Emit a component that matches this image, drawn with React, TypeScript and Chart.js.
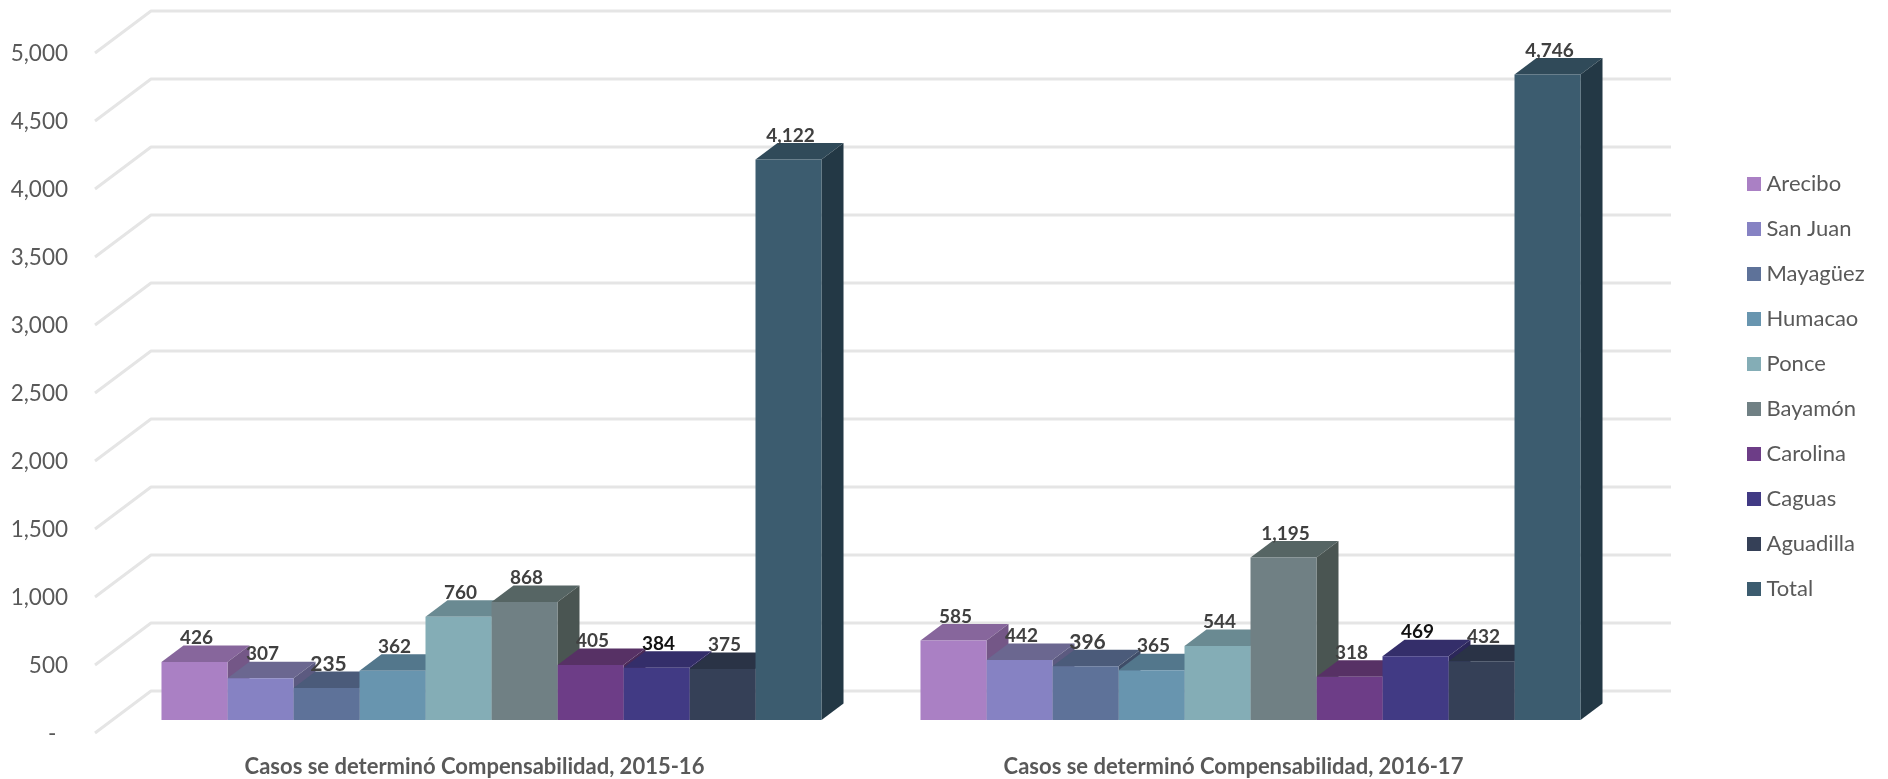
import React, { useEffect, useRef } from "react";
import { Chart, registerables } from "chart.js";

Chart.register(...registerables);

const categories = [
  "Casos se determinó Compensabilidad, 2015-16",
  "Casos se determinó Compensabilidad, 2016-17",
];
const regions = ["Arecibo", "San Juan", "Mayagüez", "Humacao", "Ponce", "Bayamón", "Carolina", "Caguas", "Aguadilla", "Total"];
const values2015 = [426, 307, 235, 362, 760, 868, 405, 384, 375, 4122];
const values2016 = [585, 442, 396, 365, 544, 1195, 318, 469, 432, 4746];
const frontColors = ["#AA80C4", "#8682C3", "#5E7299", "#6895AF", "#84ADB6", "#708084", "#6D3D87", "#413A84", "#354057", "#3C5C6F"];
const topColors = ["#87669C", "#6B6790", "#4B5B7A", "#53778C", "#6A8A92", "#566564", "#573165", "#342E6A", "#2A3346", "#304A59"];
const sideColors = ["#745787", "#5C5A80", "#3F4D68", "#466577", "#5A767C", "#4A5552", "#4A2A58", "#2C275A", "#24293A", "#233845"];

const FONT = "Lato, 'Open Sans', sans-serif";
const TEXT = "#595959";
const DEPTH_X = 22;
const DEPTH_Y = 16.5;

const poly = (ctx: CanvasRenderingContext2D, pts: number[][], fill: string) => {
  ctx.beginPath();
  pts.forEach(([x, y], i) => (i ? ctx.lineTo(x, y) : ctx.moveTo(x, y)));
  ctx.closePath();
  ctx.fillStyle = fill;
  ctx.fill();
};

const swatch = (color: string) => {
  const c = document.createElement("canvas");
  c.width = 14;
  c.height = 14;
  const g = c.getContext("2d")!;
  g.fillStyle = color;
  g.fillRect(0, 0, 14, 14);
  return c;
};

const wallPlugin = {
  id: "wall",
  beforeDraw(chart: any) {
    const legend = chart.legend;
    legend.left = 1729.5;
    legend.top = 150;
    legend.right = 1888;
    legend.bottom = 779;
  },
  beforeDatasetsDraw(chart: any) {
    const { ctx, scales } = chart;
    ctx.save();
    ctx.strokeStyle = "#E5E5E5";
    ctx.lineWidth = 3;
    ctx.lineJoin = "round";
    scales.y.ticks.forEach((t: any) => {
      const py = scales.y.getPixelForValue(t.value);
      ctx.beginPath();
      ctx.moveTo(95, py + 13);
      ctx.lineTo(151, py - 29);
      ctx.lineTo(1671, py - 29);
      ctx.stroke();
    });
    categories.forEach((_, c) => {
      regions.forEach((_, d) => {
        const bar = chart.getDatasetMeta(d).data[c];
        const left = bar.x - bar.width / 2;
        const right = bar.x + bar.width / 2;
        poly(ctx, [[left, bar.y], [right, bar.y], [right + DEPTH_X, bar.y - DEPTH_Y], [left + DEPTH_X, bar.y - DEPTH_Y]], topColors[d]);
        poly(ctx, [[right, bar.y], [right + DEPTH_X, bar.y - DEPTH_Y], [right + DEPTH_X, bar.base - DEPTH_Y], [right, bar.base]], sideColors[d]);
      });
    });
    ctx.restore();
  },
  afterDatasetsDraw(chart: any) {
    const { ctx } = chart;
    ctx.save();
    ctx.textAlign = "center";
    ctx.textBaseline = "middle";
    categories.forEach((_, c) => {
      regions.forEach((_, d) => {
        const bar = chart.getDatasetMeta(d).data[c];
        const v = chart.data.datasets[d].data[c];
        const black = d === 7;
        const big = d === 2;
        ctx.font = `bold ${big ? 21 : 19}px ${FONT}`;
        ctx.fillStyle = black ? "#111111" : "#404040";
        ctx.fillText(v.toLocaleString("en-US"), bar.x + 2, bar.y - 24);
      });
    });
    ctx.restore();
  },
};

export default function App() {
  const ref = useRef<HTMLCanvasElement>(null);
  useEffect(() => {
    const chart = new Chart(ref.current!, {
      type: "bar",
      data: {
        labels: categories,
        datasets: regions.map((name, i) => ({
          label: name,
          data: [values2015[i], values2016[i]],
          backgroundColor: frontColors[i],
          borderWidth: 0,
          barPercentage: 1,
          categoryPercentage: 0.8696,
        })),
      },
      plugins: [wallPlugin],
      options: {
        animation: false,
        responsive: false,
        layout: { padding: { top: 40, right: 258, bottom: 0, left: 0 } },
        plugins: {
          tooltip: { enabled: false },
          legend: {
            position: "chartArea",
            align: "start",
            labels: {
              usePointStyle: true,
              pointStyleWidth: 3,
              boxHeight: 14,
              padding: 23,
              color: TEXT,
              font: { family: FONT, size: 22 },
              generateLabels: (chart: any) =>
                Chart.defaults.plugins.legend.labels.generateLabels(chart).map((item: any, i: number) => ({
                  ...item,
                  pointStyle: swatch(frontColors[i]),
                })),
            },
          },
        },
        scales: {
          x: {
            grid: { display: false },
            border: { display: false },
            ticks: {
              color: TEXT,
              font: { family: FONT, size: 22, weight: "bold" },
              padding: 26,
              labelOffset: -17,
              maxRotation: 0,
              minRotation: 0,
            },
            afterFit: (s: any) => { s.height = 59; },
          },
          y: {
            min: 0,
            max: 5000,
            grid: { display: false, drawTicks: false },
            border: { display: false },
            ticks: {
              stepSize: 500,
              color: TEXT,
              font: { family: FONT, size: 22.5 },
              padding: 44,
              labelOffset: 14,
              callback: (v: any) => (v === 0 ? "-  " : Number(v).toLocaleString("en-US")),
            },
            afterFit: (s: any) => {
              s.width = 112;
              s.paddingTop = 0;
              s.paddingBottom = 0;
            },
          },
        },
      },
    } as any);
    return () => chart.destroy();
  }, []);
  return (
    <div style={{ position: "absolute", left: 0, top: 0, width: 1888, height: 779 }}>
      <canvas ref={ref} width={1888} height={779} style={{ display: "block" }} />
    </div>
  );
}
